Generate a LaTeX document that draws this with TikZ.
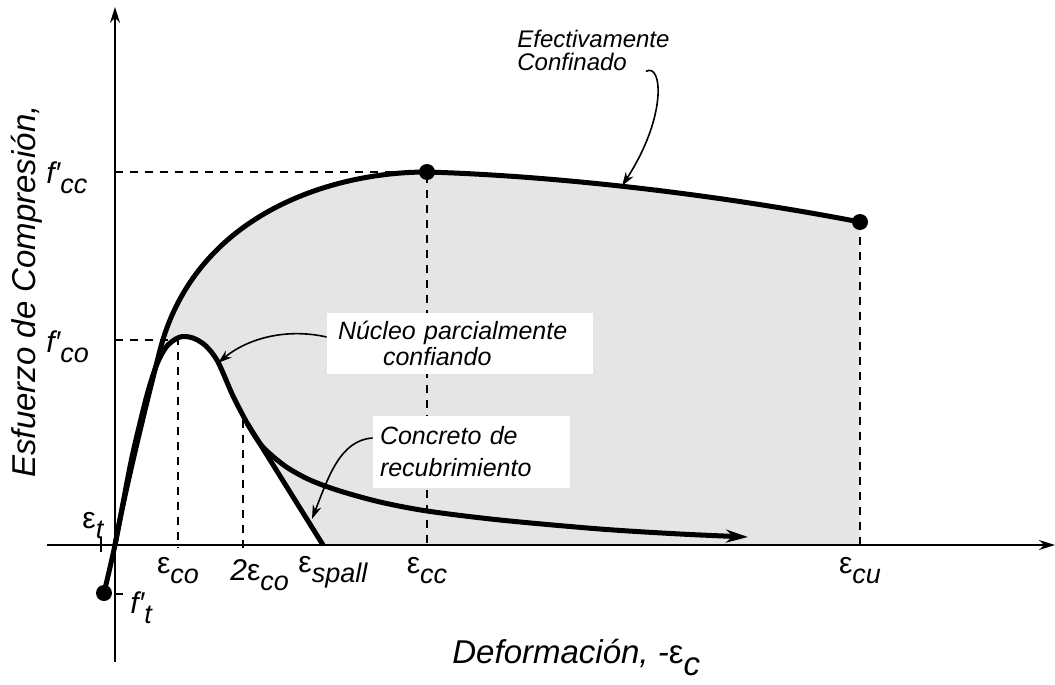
\documentclass[tikz,border=0pt]{standalone}
\usepackage{fontspec}
\setmainfont{Liberation Sans}
\usetikzlibrary{positioning,arrows.meta}

\newcommand{\lowsub}[1]{\raisebox{-5pt}{\fontsize{13.5}{13.5}\selectfont #1}}
\newcommand{\strain}[1]{\textup{ε}\lowsub{#1}}
\newcommand{\stress}[1]{f′\lowsub{#1}}

\begin{document}
\begin{tikzpicture}[x=0.5pt, y=-0.5pt,
    curve/.style={line width=2.5pt, line join=round},
    axis/.style={line width=1pt, -{Stealth[length=8pt, width=5pt]}},
    guide/.style={line width=1.3pt, dash pattern=on 4pt off 3.5pt},
    pointer/.style={line width=0.8pt, -{Stealth[length=7pt, width=4.5pt]}},
    dot/.style={circle, fill=black, inner sep=0pt, minimum size=8pt},
    tick/.style={font=\fontsize{15}{15}\selectfont\itshape, inner sep=0pt},
    axislabel/.style={font=\fontsize{16.5}{16.5}\selectfont\itshape, inner sep=0pt, anchor=base west},
    note/.style={font=\fontsize{12.5}{13}\selectfont\itshape, fill=white, align=left}]
    \useasboundingbox (0,0) rectangle (1055,685);

    \coordinate (origin) at (115,545);
    \coordinate (ccPeak) at (427,172);
    \coordinate (cuEnd) at (860,222);
    \coordinate (twoCo) at (247,423);
    \coordinate (spall) at (323,545);
    \coordinate (coTick) at (178,545);
    \coordinate (ccTick) at (427,545);
    \coordinate (cuTick) at (860,545);

    \fill[black!10] (origin) .. controls (125,490) and (148,397) .. (160,350) .. controls (195,215) and (330,172) .. (ccPeak) .. controls (560,176) and (720,195) .. (cuEnd) -- (cuTick) -- cycle;
    \fill[white] plot[smooth] coordinates {(115,545) (127,482) (134,448) (147,395) (157,364) (167,346) (180,337) (193,338) (206,346) (218,362) (233,396) (247,423)} -- (spall) -- cycle;

    \draw[guide] (115,172) -- (ccPeak) -- (427,548);
    \draw[guide] (115,340) -- (178,340) -- (178,548);
    \draw[guide] (243,420) -- (243,548);
    \draw[guide] (cuEnd) -- (860,548);

    \node[note, text width=122pt, inner xsep=5.5pt, minimum height=30.5pt] (nucleo) at (460,343) {Núcleo parcialmente\\\hspace*{22.5pt}confiando};
    \node[note, font=\fontsize{12.5}{16}\selectfont\itshape, text width=91.5pt, inner xsep=3.5pt, minimum height=36pt] (cover) at (471.5,452) {Concreto de\\recubrimiento};
    \node[font=\fontsize{12}{11.5}\selectfont\itshape, align=left, inner sep=0pt, anchor=north west] (confined) at (517,30) {Efectivamente\\Confinado};

    \draw[curve] (origin) .. controls (125,490) and (148,397) .. (160,350) .. controls (195,215) and (330,172) .. (ccPeak) .. controls (560,176) and (720,195) .. (cuEnd);
    \draw[curve] plot[smooth] coordinates {(104,593) (115,545) (127,482) (134,448) (147,395) (157,364) (167,346) (180,337) (193,338) (206,346) (218,362) (233,396) (247,423)} -- (spall);
    \draw[curve, -{Stealth[length=11pt, width=6.5pt]}] plot[smooth] coordinates {(247,423) (262,446) (285,466) (310,480) (340,491) (380,502) (427,511) (500,520) (600,529) (680,534) (748,537)};

    \draw[axis] (115,662) -- (115,7);
    \draw[axis] (47,545) -- (1055,545);
    \draw[line width=1pt] (101,537) -- (101,552);
    \draw[line width=1pt] (115,594) -- (123,594);

    \node[dot] (ccDot) at (ccPeak) {};
    \node[dot] (cuDot) at (cuEnd) {};
    \node[dot] (ftDot) at (104,593) {};

    \coordinate (ccTip) at (622,186);
    \coordinate (nuTip) at (218,363);
    \coordinate (coverTip) at (312,519);
    \draw[pointer] ([xshift=-12pt]confined.south east) .. controls (662,62) and (668,115) .. (ccTip);
    \draw[pointer] ([yshift=3pt]nucleo.west) .. controls (287,328) and (248,338) .. (nuTip);
    \draw[pointer] ([yshift=7pt]cover.west) .. controls (340,440) and (328,478) .. (coverTip);

    \node[tick, below=6pt of coTick] (epsCo) {\strain{co}};
    \node[tick, below=6pt of ccTick] (epsCc) {\strain{cc}};
    \node[tick, below=6pt of cuTick] (epsCu) {\strain{cu}};
    \node[tick, anchor=base west] (epsTwoCo) at (230,580) {2\strain{co}};
    \node[tick, anchor=base west] (epsSpall) at (298,572) {\strain{spall}};
    \node[tick, anchor=base west] (epsT) at (82,528) {\strain{t}};
    \node[tick, anchor=base west] (ft) at (130,613) {\stress{t}};
    \node[tick, anchor=base west] (fcc) at (46,183) {\stress{cc}};
    \node[tick, anchor=base west] (fco) at (46,352) {\stress{co}};

    \node[axislabel, rotate=90] (stressAxis) at (35,478) {Esfuerzo de Compresión,};
    \node[axislabel] (strainAxis) at (452,663) {Deformación, -\textup{ε}\raisebox{-6pt}{c}};
\end{tikzpicture}
\end{document}
